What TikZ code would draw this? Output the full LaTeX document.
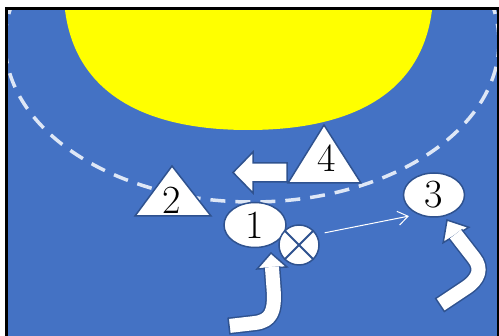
\documentclass[tikz,border=0pt]{standalone}
\usepackage{fontspec}
\usetikzlibrary{arrows.meta,calc,shapes.geometric}
\definecolor{CourtBlue}{RGB}{68,114,196}
\definecolor{EdgeBlue}{RGB}{47,82,143}
\definecolor{AreaYellow}{RGB}{255,255,0}
\definecolor{LineWhite}{RGB}{222,231,246}

\begin{document}
\begin{tikzpicture}[
  x=1pt, y=-1pt,
  tri/.style={draw=EdgeBlue, fill=white, line width=1.5pt},
  num/.style={font=\fontsize{40}{44}\selectfont, inner sep=0pt},
  oval/.style={tri, ellipse, inner sep=0pt, font=\fontsize{40}{44}\selectfont},
  run/.style={draw=EdgeBlue, double=white, double distance=14pt, line width=1.5pt, line join=round},
  runend/.style={EdgeBlue, line width=1.5pt},
  pass/.style={white, line width=1pt, -{Straight Barb[length=10pt,width=14pt]}},
  boundary/.style={LineWhite, line width=3.5pt, dash pattern=on 15pt off 10pt}
]
\useasboundingbox (0,0) rectangle (499,336);
\clip (0,0) rectangle (499,336);

% court, goal area and free throw line
\begin{scope}
  \clip (8,10) rectangle (497,336);
  \fill[CourtBlue] (0,0) rectangle (499,336);
  \fill[AreaYellow] (65,0) -- (65,10) .. controls (75,90) and (140,130) .. (248,130)
    .. controls (357,130) and (422,90) .. (432,10) -- (432,0) -- cycle;
  \draw[boundary] (252,42) ellipse [x radius=247, y radius=160];
\end{scope}
\draw[line width=3pt] (6.5,8.5) rectangle (498,345);

% defenders
\draw[tri] (172,166) -- (211,216) -- (135,216) -- cycle;
\node[num] (p2) at (172,200) {2};
\draw[tri] (287,163) -- (253,163) -- (253,152) -- (233,172.5) -- (253,193) -- (253,182) -- (287,182) -- cycle;
\draw[tri] (324,125) -- (361,183) -- (288,183) -- cycle;
\node[num] (p4) at (327,158) {4};

% attackers
\node[oval, minimum width=62pt, minimum height=45pt] (p1) at (255,225) {1};
\node[oval, minimum width=61pt, minimum height=44pt] (p3) at (434,195) {3};
\node[tri, circle, minimum size=40pt, inner sep=0pt] (ball) at (299,245) {};
\draw[EdgeBlue, line width=2pt] (ball.north west) -- (ball.south east)
  (ball.north east) -- (ball.south west);

% pass
\draw[pass] ([xshift=11pt,yshift=-2.5pt]ball.north east) -- ([xshift=-3pt,yshift=-5pt]p3.south west);

% runs
\coordinate (r1tip) at (271,253);
\coordinate (r1base) at (272,268);
\coordinate (r1tail) at (229,326);
\coordinate (r1bend) at (255,323);
\draw[tri] (r1tip) -- ($(r1base)!15pt!90:(r1tip)$) -- ($(r1base)!15pt!-90:(r1tip)$) -- cycle;
\draw[run] (r1tail) -- (r1bend) .. controls (272,321) and (274,310) .. (274,295)
  -- ($(r1base)!1pt!(r1tip)$);
\draw[runend] ($(r1tail)!8.5pt!90:(r1bend)$) -- ($(r1tail)!8.5pt!-90:(r1bend)$);

\coordinate (r3tip) at (447,220);
\coordinate (r3base) at (456,235);
\coordinate (r3tail) at (440,305);
\coordinate (r3bend) at (464,289);
\draw[tri] (r3tip) -- ($(r3base)!15pt!90:(r3tip)$) -- ($(r3base)!15pt!-90:(r3tip)$) -- cycle;
\draw[run] (r3tail) -- (r3bend) .. controls (480,279) and (482,268) .. (474,258)
  -- ($(r3base)!1pt!(r3tip)$);
\draw[runend] ($(r3tail)!8.5pt!90:(r3bend)$) -- ($(r3tail)!8.5pt!-90:(r3bend)$);
\end{tikzpicture}
\end{document}
